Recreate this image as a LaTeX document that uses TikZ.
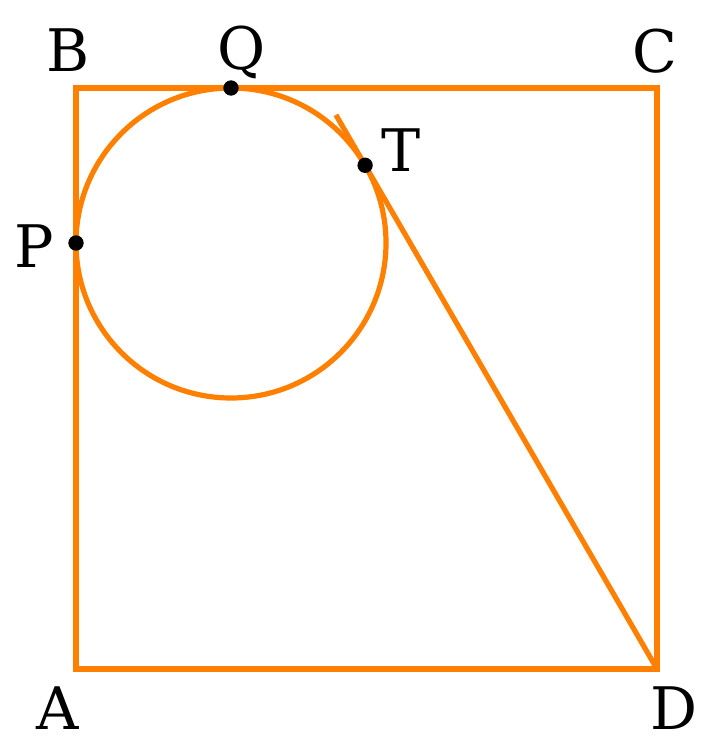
\documentclass[tikz,border=0pt]{standalone}
\usepackage{fontspec}
\setmainfont{DejaVu Serif}
\usetikzlibrary{calc}
\definecolor{edge}{RGB}{255,128,0}
\begin{document}
\begin{tikzpicture}[x=0.75pt,y=-0.75pt,
  edgeline/.style={draw=edge,line width=3.9pt},
  dotmark/.style={circle,fill=black,inner sep=0pt,minimum size=11.5pt},
  lbl/.style={anchor=base,inner sep=0pt,font=\fontsize{44}{48}\selectfont}]
\useasboundingbox (0,0) rectangle (700,737);
\coordinate (A) at (76,669);
\coordinate (B) at (76,88);
\coordinate (C) at (657,88);
\coordinate (D) at (657,669);
\coordinate (O) at (231,243);
\coordinate (Q) at (231,88);
\coordinate (P) at (76,243);
\coordinate (T) at ($(O)+(-30.09:155)$);
\coordinate (E) at ($(D)!1.1!(T)$);
\draw[edgeline,line join=miter] (A) -- (B) -- (C) -- (D) -- cycle;
\draw[edgeline] (O) circle[radius=155];
\draw[edgeline] (D) -- (E);
\node[dotmark] (q) at (Q) {};
\node[dotmark] (p) at (P) {};
\node[dotmark] (t) at (T) {};
\node[lbl] (lB) at (68,72) {B};
\node[lbl] (lQ) at (242,70) {Q};
\node[lbl] (lC) at (655,73) {C};
\node[lbl] (lT) at (401,172) {T};
\node[lbl] (lP) at (34,268) {P};
\node[lbl] (lA) at (58,729) {A};
\node[lbl] (lD) at (674,729) {D};
\end{tikzpicture}
\end{document}
